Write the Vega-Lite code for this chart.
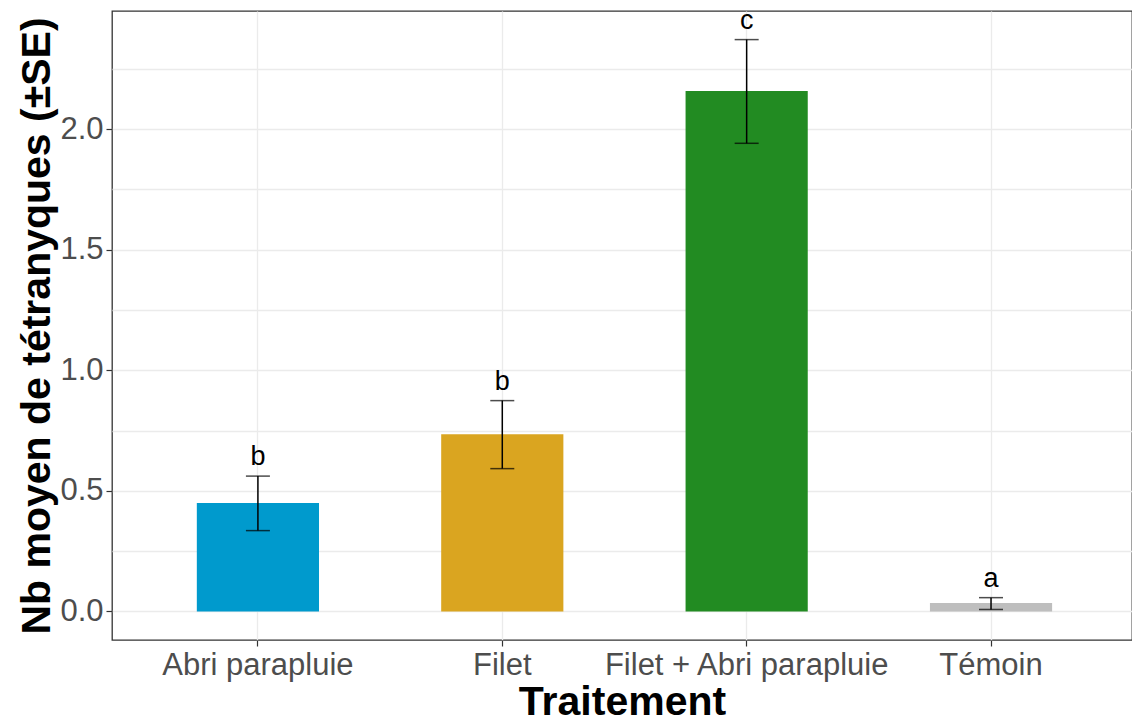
{
  "$schema": "https://vega.github.io/schema/vega-lite/v6.json",
  "width": 1020,
  "height": 629,
  "autosize": {"type": "none"},
  "padding": {"left": 112, "top": 11, "right": 0, "bottom": 80},
  "background": "white",
  "config": {
    "font": "Liberation Sans",
    "view": {"stroke": "#333333", "strokeWidth": 1.3}
  },
  "data": {
    "values": [
      {"traitement": "Abri parapluie", "moyenne": 0.45, "bas": 0.335, "haut": 0.561, "lettre": "b"},
      {"traitement": "Filet", "moyenne": 0.735, "bas": 0.592, "haut": 0.874, "lettre": "b"},
      {"traitement": "Filet + Abri parapluie", "moyenne": 2.158, "bas": 1.941, "haut": 2.371, "lettre": "c"},
      {"traitement": "Témoin", "moyenne": 0.035, "bas": 0.008, "haut": 0.057, "lettre": "a"}
    ]
  },
  "encoding": {
    "x": {
      "field": "traitement",
      "type": "nominal",
      "sort": null,
      "scale": {"paddingInner": 0.5, "paddingOuter": 0.337, "align": 0.515},
      "axis": {
        "title": "Traitement",
        "titleFontSize": 41,
        "titleFontWeight": "bold",
        "titleColor": "black",
        "titlePadding": 2,
        "labelFontSize": 31,
        "labelColor": "#4d4d4d",
        "labelAngle": 0,
        "labelPadding": 4.5,
        "labelLimit": 0,
        "labelOverlap": false,
        "tickSize": 6,
        "tickColor": "#333333",
        "tickWidth": 1.2,
        "domain": false,
        "grid": true,
        "gridColor": "#ebebeb",
        "gridWidth": 1.3,
        "bandPosition": 0.5
      }
    }
  },
  "layer": [
    {
      "mark": {"type": "bar"},
      "encoding": {
        "y": {
          "field": "moyenne",
          "type": "quantitative",
          "scale": {"domain": [-0.1186, 2.4896], "nice": false, "zero": false},
          "axis": {
            "title": "Nb moyen de tétranyques (±SE)",
            "titleFontSize": 41,
            "titleFontWeight": "bold",
            "titleColor": "black",
            "titlePadding": 1,
            "values": [0, 0.25, 0.5, 0.75, 1, 1.25, 1.5, 1.75, 2, 2.25],
            "labelExpr": "datum.value % 0.5 === 0 ? format(datum.value, '.1f') : ''",
            "labelFontSize": 31,
            "labelColor": "#4d4d4d",
            "labelPadding": 3,
            "labelOverlap": false,
            "tickSize": 6,
            "tickColor": "#333333",
            "tickWidth": 1.2,
            "tickOpacity": {"condition": {"test": "datum.value % 0.5 !== 0", "value": 0}, "value": 1},
            "domain": false,
            "grid": true,
            "gridColor": "#ebebeb",
            "gridWidth": 1.3
          }
        },
        "color": {
          "field": "traitement",
          "type": "nominal",
          "sort": null,
          "scale": {
            "domain": ["Abri parapluie", "Filet", "Filet + Abri parapluie", "Témoin"],
            "range": ["#009acd", "#daa520", "#228b22", "#bebebe"]
          },
          "legend": null
        }
      }
    },
    {
      "mark": {"type": "rule", "color": "black", "strokeWidth": 1.5},
      "encoding": {
        "y": {"field": "bas", "type": "quantitative"},
        "y2": {"field": "haut"}
      }
    },
    {
      "mark": {"type": "tick", "color": "black", "size": 24, "thickness": 1.5, "orient": "horizontal"},
      "encoding": {"y": {"field": "bas", "type": "quantitative"}}
    },
    {
      "mark": {"type": "tick", "color": "black", "size": 24, "thickness": 1.5, "orient": "horizontal"},
      "encoding": {"y": {"field": "haut", "type": "quantitative"}}
    },
    {
      "mark": {"type": "text", "color": "black", "fontSize": 27, "baseline": "alphabetic", "dy": -11},
      "encoding": {
        "y": {"field": "haut", "type": "quantitative"},
        "text": {"field": "lettre"}
      }
    }
  ]
}
